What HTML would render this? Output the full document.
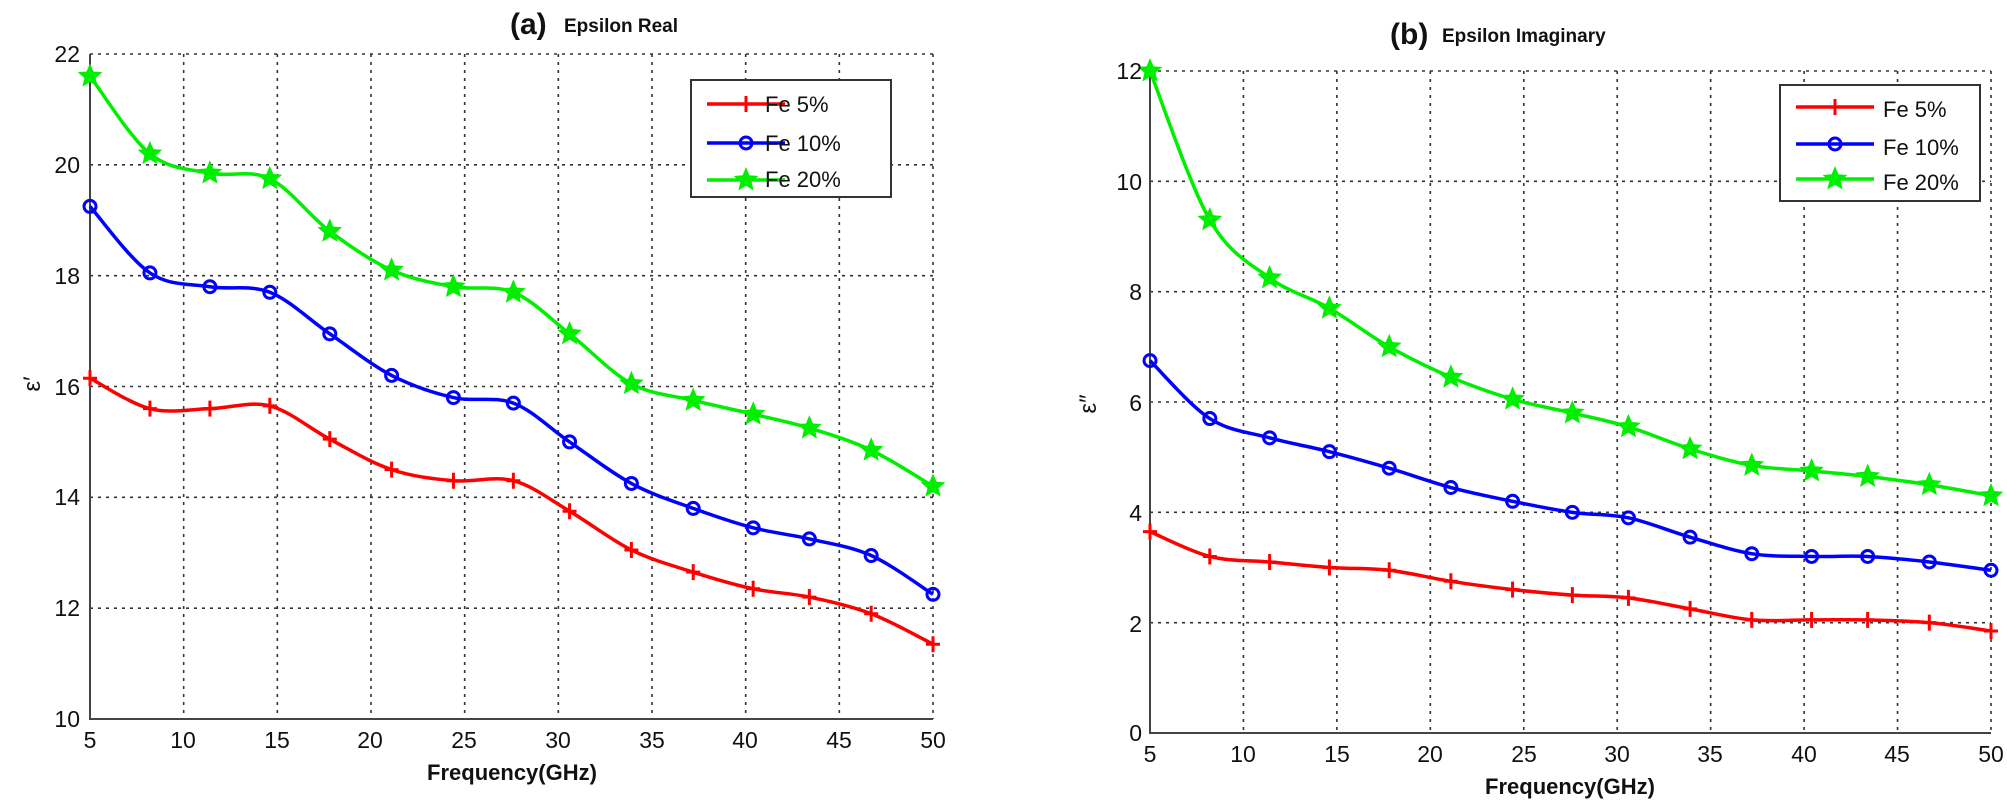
<!DOCTYPE html>
<html><head><meta charset="utf-8"><style>
html,body{margin:0;padding:0;background:#fff;}
svg{display:block;font-family:"Liberation Sans",Arial,sans-serif;}
</style></head><body>
<svg id="s" width="2007" height="805" viewBox="0 0 2007 805" xmlns="http://www.w3.org/2000/svg">
<g id="grid" stroke="#333" stroke-width="1.6" stroke-dasharray="3,5" fill="none"></g>
<g stroke="#444" stroke-width="2" fill="none">
<path d="M90 54 V719 H933"/>
<path d="M1150 71 V733 H1991"/>
</g>
<g id="series"></g>
<!-- Left tick labels -->
<g font-size="23" fill="#111" text-anchor="end">
<text x="80" y="62">22</text><text x="80" y="173">20</text><text x="80" y="284">18</text><text x="80" y="395">16</text>
<text x="80" y="505">14</text><text x="80" y="616">12</text><text x="80" y="727">10</text>
<text x="1142" y="79">12</text><text x="1142" y="190">10</text><text x="1142" y="300">8</text><text x="1142" y="411">6</text>
<text x="1142" y="521">4</text><text x="1142" y="632">2</text><text x="1142" y="741">0</text>
</g>
<g font-size="23" fill="#111" text-anchor="middle">
<text x="90" y="748">5</text><text x="183" y="748">10</text><text x="277" y="748">15</text><text x="370" y="748">20</text><text x="464" y="748">25</text>
<text x="558" y="748">30</text><text x="652" y="748">35</text><text x="745" y="748">40</text><text x="839" y="748">45</text><text x="933" y="748">50</text>
<text x="1150" y="762">5</text><text x="1243" y="762">10</text><text x="1337" y="762">15</text><text x="1430" y="762">20</text><text x="1524" y="762">25</text>
<text x="1617" y="762">30</text><text x="1710" y="762">35</text><text x="1804" y="762">40</text><text x="1897" y="762">45</text><text x="1991" y="762">50</text>
</g>
<g font-weight="bold" fill="#111">
<text x="512" y="780" font-size="22" text-anchor="middle">Frequency(GHz)</text>
<text x="1570" y="794" font-size="22" text-anchor="middle">Frequency(GHz)</text>
<text x="510" y="34" font-size="30">(a)</text>
<text x="564" y="32" font-size="19">Epsilon Real</text>
<text x="1390" y="44" font-size="30">(b)</text>
<text x="1442" y="42" font-size="19">Epsilon Imaginary</text>
</g>
<g font-size="24" fill="#111">
<text x="32" y="392" transform="rotate(-90 32 384)" text-anchor="middle">ε′</text>
<text x="1088" y="412" transform="rotate(-90 1088 404)" text-anchor="middle">ε″</text>
</g>
<!-- legends -->
<g id="leg"></g>
<g font-size="22" fill="#111">
<text x="765" y="112">Fe 5%</text><text x="765" y="151">Fe 10%</text><text x="765" y="187">Fe 20%</text>
<text x="1883" y="117">Fe 5%</text><text x="1883" y="155">Fe 10%</text><text x="1883" y="190">Fe 20%</text>
</g>
</svg>
<script>
var NS="http://www.w3.org/2000/svg";
function el(p,t,a){var e=document.createElementNS(NS,t);for(var k in a)e.setAttribute(k,a[k]);p.appendChild(e);return e;}
var grid=document.getElementById('grid'),ser=document.getElementById('series'),leg=document.getElementById('leg');
var P=[{x0:90,x1:933,ytop:54,ybot:719,ymin:10,ymax:22,step:2},{x0:1150,x1:1991,ytop:71,ybot:733,ymin:0,ymax:12,step:2}];
P.forEach(function(p){
 for(var f=10;f<=50;f+=5){var x=p.x0+(f-5)*(p.x1-p.x0)/45;el(grid,'line',{x1:x,x2:x,y1:p.ytop,y2:p.ybot});}
 for(var v=p.ymin+p.step;v<=p.ymax;v+=p.step){var y=p.ybot-(v-p.ymin)*(p.ybot-p.ytop)/(p.ymax-p.ymin);el(grid,'line',{x1:p.x0,x2:p.x1,y1:y,y2:y});}
});
var X=[5,8.2,11.4,14.6,17.8,21.1,24.4,27.6,30.6,33.9,37.2,40.4,43.4,46.7,50];
var D=[
 [[16.15,15.6,15.6,15.65,15.05,14.5,14.3,14.3,13.75,13.05,12.65,12.35,12.2,11.9,11.35],
  [19.25,18.05,17.8,17.7,16.95,16.2,15.8,15.7,15.0,14.25,13.8,13.45,13.25,12.95,12.25],
  [21.6,20.2,19.85,19.75,18.8,18.1,17.8,17.7,16.95,16.05,15.75,15.5,15.25,14.85,14.2]],
 [[3.65,3.2,3.1,3.0,2.95,2.75,2.6,2.5,2.45,2.25,2.05,2.05,2.05,2.0,1.85],
  [6.75,5.7,5.35,5.1,4.8,4.45,4.2,4.0,3.9,3.55,3.25,3.2,3.2,3.1,2.95],
  [12.0,9.3,8.25,7.7,7.0,6.45,6.05,5.8,5.55,5.15,4.85,4.75,4.65,4.5,4.3]]];
var C=['#f00','#00f','#0e0'];
function star(x,y,r){var s='';for(var i=0;i<10;i++){var a=-Math.PI/2+i*Math.PI/5,rr=i%2?r*0.45:r;s+=(i?'L':'M')+(x+rr*Math.cos(a)).toFixed(1)+' '+(y+rr*Math.sin(a)).toFixed(1);}return s+'Z';}
function marker(g,k,x,y){
 if(k==0)el(g,'path',{d:'M'+(x-7)+' '+y+'H'+(x+7)+'M'+x+' '+(y-8)+'V'+(y+8),stroke:C[0],'stroke-width':3,fill:'none'});
 else if(k==1)el(g,'circle',{cx:x,cy:y,r:6,stroke:C[1],'stroke-width':3,fill:'none'});
 else el(g,'path',{d:star(x,y,11),fill:C[2],stroke:C[2],'stroke-width':1.5});
}
D.forEach(function(ds,pi){var p=P[pi];
 ds.forEach(function(vals,k){
  var pts=X.map(function(f,i){return [p.x0+(f-5)*(p.x1-p.x0)/45,p.ybot-(vals[i]-p.ymin)*(p.ybot-p.ytop)/(p.ymax-p.ymin)];});
  var d='M'+pts[0][0]+' '+pts[0][1];
  for(var i=0;i<pts.length-1;i++){var p0=pts[Math.max(i-1,0)],p1=pts[i],p2=pts[i+1],p3=pts[Math.min(i+2,pts.length-1)];
   d+='C'+(p1[0]+(p2[0]-p0[0])/6)+' '+(p1[1]+(p2[1]-p0[1])/6)+' '+(p2[0]-(p3[0]-p1[0])/6)+' '+(p2[1]-(p3[1]-p1[1])/6)+' '+p2[0]+' '+p2[1];}
  el(ser,'path',{d:d,stroke:C[k],'stroke-width':3.5,fill:'none','stroke-linejoin':'round'});
  pts.forEach(function(q){marker(ser,k,q[0],q[1]);});
 });
});
[[691,80,891,197,104,143,180],[1780,85,1980,201,107,144,179]].forEach(function(L){
 el(leg,'rect',{x:L[0],y:L[1],width:L[2]-L[0],height:L[3]-L[1],fill:'#fff',stroke:'#333','stroke-width':2});
 for(var k=0;k<3;k++){var y=L[4+k];el(leg,'line',{x1:L[0]+16,x2:L[0]+94,y1:y,y2:y,stroke:C[k],'stroke-width':3.5});marker(leg,k,L[0]+55,y);}
});
</script>
</body></html>
